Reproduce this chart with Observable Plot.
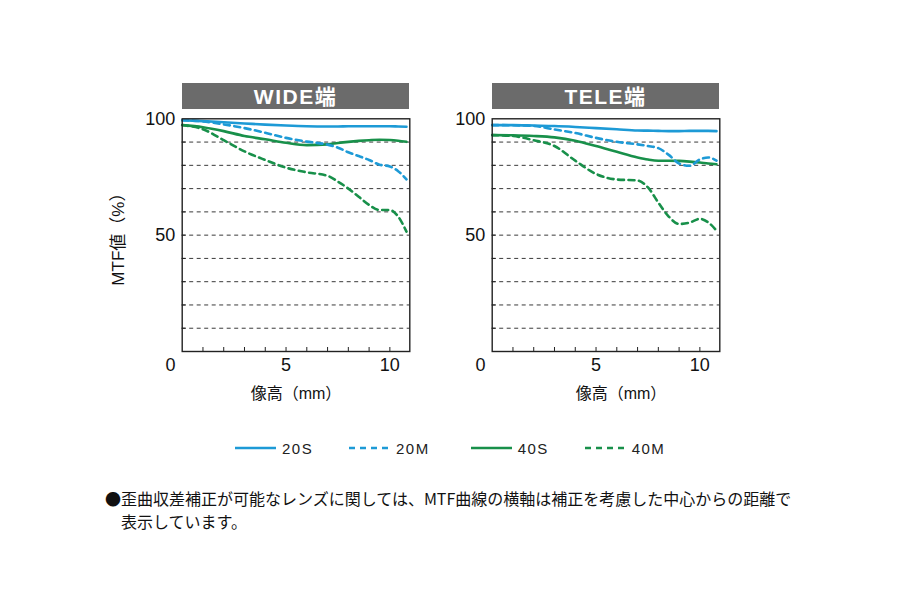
<!DOCTYPE html>
<html>
<head>
<meta charset="utf-8">
<script src="https://cdn.jsdelivr.net/npm/d3@7"></script>
<script src="https://cdn.jsdelivr.net/npm/@observablehq/plot@0.6"></script>
<style>
html, body { margin: 0; padding: 0; background: #fff; }
#root { position: relative; width: 900px; height: 600px; overflow: hidden;
  font-family: "Liberation Sans", "Noto Sans CJK JP", sans-serif; color: #111; }
.bar { position: absolute; background: #6b6b6b; color: #fff; font-weight: bold;
  font-size: 21px; letter-spacing: 1.5px; text-align: center; height: 26px; line-height: 27px; }
.panel { position: absolute; }
.leg { position: absolute; display: flex; align-items: center; font-size: 15px;
  letter-spacing: 1.5px; color: #222; height: 20px; }
.leg svg { margin-right: 6px; }
.note { position: absolute; font-size: 16px; color: #111; white-space: nowrap;
  font-family: "Noto Sans CJK JP", sans-serif; }
</style>
</head>
<body>
<div id="root"></div>
<script>
// ---- data ----
const heights = [0, 1, 2, 3, 4, 5, 6, 7, 7.5, 8, 8.5, 9, 9.5, 10, 10.4, 10.8];

const wide20S = [99.4, 99.0, 98.5, 98.0, 97.5, 97.1, 96.8, 96.7, 96.7, 96.8, 96.8, 96.8, 96.8, 96.8, 96.7, 96.6];
const wide20M = [99.4, 98.9, 97.6, 96.0, 94.0, 91.8, 90.2, 88.9, 87.6, 85.6, 84.0, 82.3, 80.3, 79.5, 77.5, 74.0];
const wide40S = [97.3, 96.4, 94.7, 92.6, 91.2, 89.7, 88.7, 89.0, 89.6, 90.1, 90.5, 90.8, 91.0, 90.9, 90.6, 90.1];
const wide40M = [97.3, 95.5, 90.8, 86.0, 82.3, 79.0, 77.0, 75.5, 73.0, 70.0, 66.5, 63.0, 60.8, 60.8, 58.0, 51.5];

const tele20S = [97.3, 97.3, 97.1, 96.9, 96.5, 96.0, 95.5, 95.0, 94.9, 94.8, 94.7, 94.7, 94.8, 94.8, 94.8, 94.7];
const tele20M = [97.3, 97.2, 96.9, 95.4, 93.9, 91.8, 90.1, 89.0, 88.3, 87.4, 84.5, 80.8, 79.8, 82.5, 83.4, 82.0];
const tele40S = [93.0, 92.9, 92.6, 92.0, 90.6, 88.3, 85.8, 83.4, 82.5, 82.0, 82.0, 81.9, 81.6, 81.2, 80.8, 80.5];
const tele40M = [93.0, 92.6, 90.8, 88.3, 82.0, 76.3, 73.9, 73.5, 70.5, 64.0, 58.0, 54.8, 55.4, 57.0, 55.5, 52.0];

const seriesNames = ["20S", "20M", "40S", "40M"];
const panelTitles = ["WIDE端", "TELE端"];
const yLabelTicks = [50, 100];
const xLabelTicks = [5, 10];
const gridValues = [10, 20, 30, 40, 50, 60, 70, 80, 90];
const xMinorTicks = [1, 2, 3, 4, 5, 6, 7, 8, 9, 10];
const yAxisLabel = "MTF値（%）";
const xAxisLabel = "像高（mm）";
const noteLines = [
  "●歪曲収差補正が可能なレンズに関しては、MTF曲線の横軸は補正を考慮した中心からの距離で",
  "表示しています。"
];

// ---- styles ----
const BLUE = "#1d9ad6", GREEN = "#18904a";
const style = {
  "20S": {stroke: BLUE, dash: null},
  "20M": {stroke: BLUE, dash: "6,4.5"},
  "40S": {stroke: GREEN, dash: null},
  "40M": {stroke: GREEN, dash: "6,4.5"}
};
const FONT = '"Liberation Sans", "Noto Sans CJK JP", sans-serif';

const root = document.getElementById("root");

function makePanel(seriesMap, showYLabel, xLabelDx) {
  const drawOrder = ["40M", "40S", "20M", "20S"];
  const lines = drawOrder.map(name => {
    const rows = heights.map((h, i) => ({h, v: seriesMap[name][i]}));
    return Plot.line(rows, {
      x: "h", y: "v", stroke: style[name].stroke, strokeWidth: 2.6,
      strokeDasharray: style[name].dash, curve: "monotone-x"
    });
  });
  const marks = [
    Plot.ruleY(gridValues, {stroke: "#3a3a3a", strokeWidth: 1, strokeDasharray: "4,3.5"}),
    ...lines,
    Plot.frame({stroke: "#222", strokeWidth: 1.4}),
    Plot.axisY({ticks: gridValues, tickSize: -4, tickFormat: () => "", label: null, stroke: "#222"}),
    Plot.axisX({ticks: xMinorTicks, tickSize: -4, tickFormat: () => "", label: null, stroke: "#222"}),
    Plot.axisY({ticks: yLabelTicks, tickSize: 0, tickPadding: 7, label: null, fontSize: 18, fill: "#111"}),
    Plot.axisX({ticks: xLabelTicks, tickSize: 0, tickPadding: 7, label: null, fontSize: 18, fill: "#111"}),
    Plot.text(["0"], {frameAnchor: "bottom-left", textAnchor: "middle", lineAnchor: "middle",
      dx: -11.7, dy: 14, fontSize: 18, fill: "#111"}),
    Plot.text([xAxisLabel], {frameAnchor: "bottom", textAnchor: "middle", lineAnchor: "middle",
      dy: 42, dx: xLabelDx, fontSize: 16, fill: "#111"})
  ];
  if (showYLabel) {
    marks.push(Plot.text([yAxisLabel], {frameAnchor: "left", textAnchor: "middle", lineAnchor: "middle",
      dx: -64, rotate: -90, fontSize: 17, fill: "#111"}));
  }
  return Plot.plot({
    width: 320, height: 300,
    marginLeft: 81.7, marginRight: 10.7, marginTop: 8.3, marginBottom: 59,
    x: {domain: [0, 10.96]},
    y: {domain: [0, 100]},
    style: {fontFamily: FONT, fontSize: "18px", background: "transparent", overflow: "visible"},
    marks
  });
}

const panels = [
  {left: 100, title: panelTitles[0], data: {"20S": wide20S, "20M": wide20M, "40S": wide40S, "40M": wide40M}, yl: true, dx: 0},
  {left: 410, title: panelTitles[1], data: {"20S": tele20S, "20M": tele20M, "40S": tele40S, "40M": tele40M}, yl: false, dx: 15}
];

panels.forEach(p => {
  const bar = document.createElement("div");
  bar.className = "bar";
  bar.style.left = (p.left + 81.7) + "px";
  bar.style.top = "83px";
  bar.style.width = (320 - 81.7 - 10.7) + "px";
  bar.textContent = p.title;
  root.appendChild(bar);

  const wrap = document.createElement("div");
  wrap.className = "panel";
  wrap.style.left = p.left + "px";
  wrap.style.top = "110px";
  wrap.appendChild(makePanel(p.data, p.yl, p.dx));
  root.appendChild(wrap);
});

// legend
const legendLefts = [235, 349, 470.7, 584.7];
seriesNames.forEach((name, i) => {
  const item = document.createElement("div");
  item.className = "leg";
  item.style.left = legendLefts[i] + "px";
  item.style.top = "438px";
  const ns = "http://www.w3.org/2000/svg";
  const svg = document.createElementNS(ns, "svg");
  svg.setAttribute("width", "41"); svg.setAttribute("height", "6");
  const ln = document.createElementNS(ns, "line");
  ln.setAttribute("x1", "0"); ln.setAttribute("x2", "41");
  ln.setAttribute("y1", "3"); ln.setAttribute("y2", "3");
  ln.setAttribute("stroke", style[name].stroke);
  ln.setAttribute("stroke-width", "2.6");
  if (style[name].dash) ln.setAttribute("stroke-dasharray", "6,5");
  svg.appendChild(ln);
  item.appendChild(svg);
  const t = document.createElement("span");
  t.textContent = name;
  item.appendChild(t);
  root.appendChild(item);
});

// footnote
noteLines.forEach((line, i) => {
  const d = document.createElement("div");
  d.className = "note";
  d.style.left = (i === 0 ? 105 : 121) + "px";
  d.style.top = (i === 0 ? 486 : 509) + "px";
  d.textContent = line;
  root.appendChild(d);
});
</script>
</body>
</html>
